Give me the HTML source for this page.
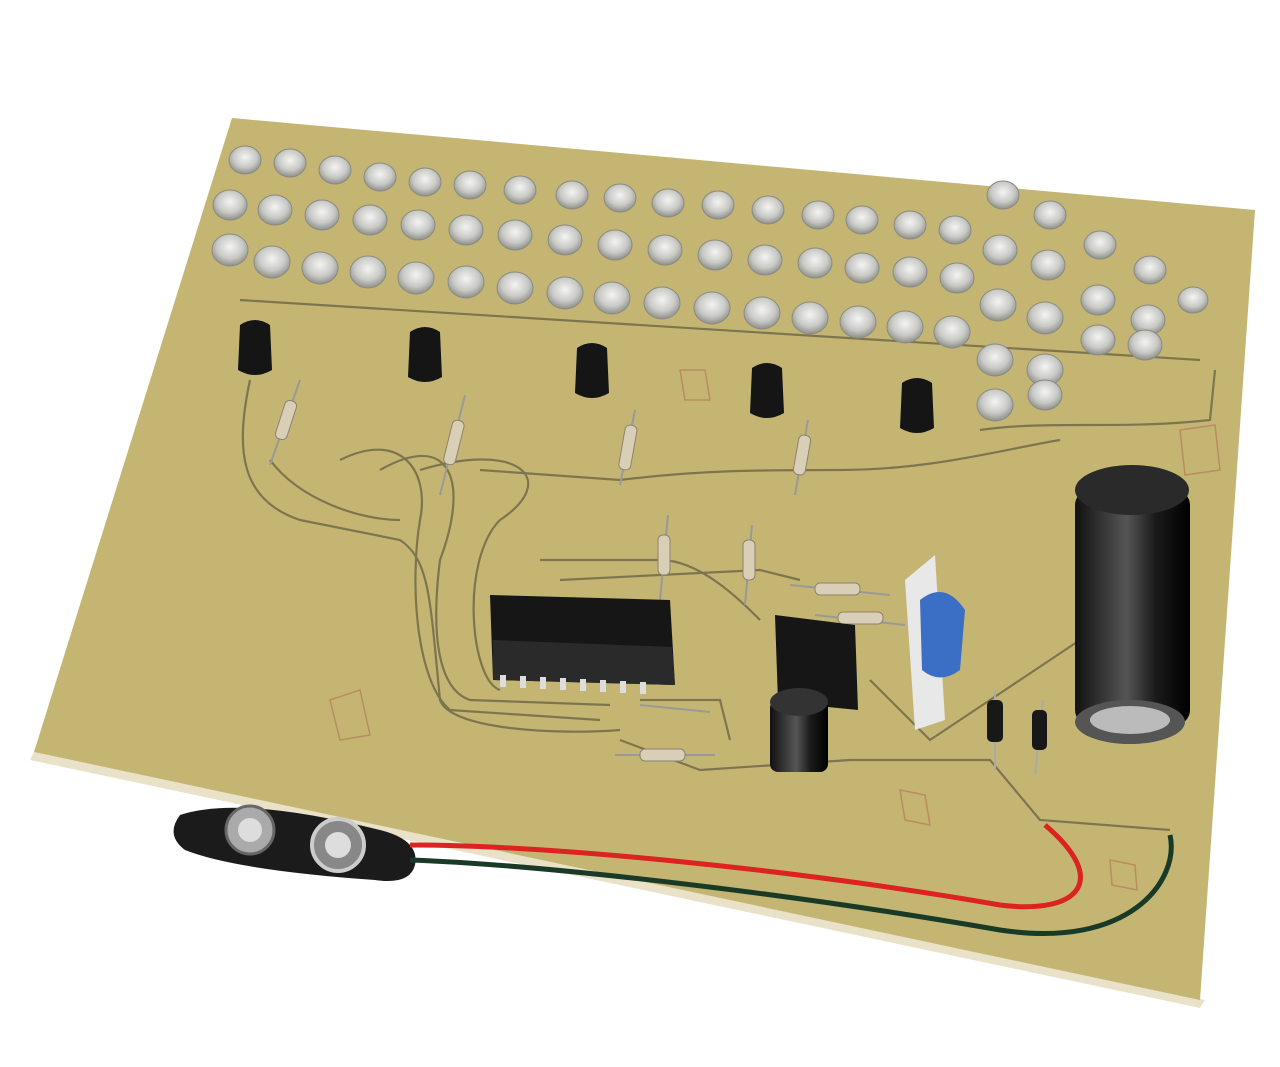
<!DOCTYPE html>
<html><head><meta charset="utf-8"><style>
html,body{margin:0;padding:0;background:#fff;}
svg{display:block}
</style></head><body>
<svg width="1280" height="1067" viewBox="0 0 1280 1067" xmlns="http://www.w3.org/2000/svg">
<defs>
<radialGradient id="led" cx="50%" cy="40%" r="60%">
<stop offset="0" stop-color="#f4f4f2"/><stop offset="0.6" stop-color="#c9cac6"/><stop offset="1" stop-color="#8e8f88"/>
</radialGradient>
<linearGradient id="cap" x1="0" x2="1">
<stop offset="0" stop-color="#111"/><stop offset="0.45" stop-color="#555"/><stop offset="0.7" stop-color="#1a1a1a"/><stop offset="1" stop-color="#000"/>
</linearGradient>
</defs>
<rect width="1280" height="1067" fill="#fff"/>
<!-- board edge -->
<polygon points="30,760 1200,1008 1205,1000 34,752" fill="#e9e2c8"/>
<polygon points="232,118 1255,210 1200,1000 34,752" fill="#c4b672"/>
<!-- traces -->
<g fill="none" stroke="#6d6547" stroke-width="2.2" opacity="0.8">
<path d="M250,380 C235,450 240,500 300,520 L400,540 C430,560 430,600 440,700 C450,730 560,735 620,730"/>
<path d="M340,460 C400,430 430,470 420,520 C410,580 415,680 450,710 L600,720"/>
<path d="M380,470 C450,430 470,480 440,560 C430,640 440,690 470,700 L610,705"/>
<path d="M420,470 C520,440 560,480 500,520 C460,560 470,680 500,690"/>
<path d="M270,460 C300,500 360,520 400,520"/>
<path d="M480,470 L620,480 C700,470 760,470 840,470 C930,470 1000,450 1060,440"/>
<path d="M540,560 L660,560 C700,560 740,600 760,620"/>
<path d="M560,580 L760,570 L800,580"/>
<path d="M620,740 L700,770 L850,760 L990,760 L1040,820 L1170,830"/>
<path d="M870,680 L930,740 L990,700 L1080,640"/>
<path d="M980,430 C1050,420 1120,430 1210,420 L1215,370"/>
<path d="M640,700 L720,700 L730,740"/>
<path d="M240,300 L1200,360"/>
</g>
<!-- red markings -->
<g fill="none" stroke="#b77a5a" stroke-width="1.5" opacity="0.7">
<path d="M330,700 l30,-10 l10,45 l-30,5 z"/><path d="M1180,430 l35,-5 l5,45 l-35,5z"/>
<path d="M680,370 l25,0 l5,30 l-25,0z"/><path d="M900,790 l25,5 l5,30 l-25,-5z"/><path d="M1110,860 l25,5 l2,25 l-25,-5z"/>
</g>
<!-- LEDs -->
<g id="leds" stroke="#8a8a84" stroke-width="1">
<g fill="url(#led)">
<!-- back row -->
<ellipse cx="245" cy="160" rx="16" ry="14"/><ellipse cx="290" cy="163" rx="16" ry="14"/><ellipse cx="335" cy="170" rx="16" ry="14"/><ellipse cx="380" cy="177" rx="16" ry="14"/><ellipse cx="425" cy="182" rx="16" ry="14"/><ellipse cx="470" cy="185" rx="16" ry="14"/><ellipse cx="520" cy="190" rx="16" ry="14"/><ellipse cx="572" cy="195" rx="16" ry="14"/><ellipse cx="620" cy="198" rx="16" ry="14"/><ellipse cx="668" cy="203" rx="16" ry="14"/><ellipse cx="718" cy="205" rx="16" ry="14"/><ellipse cx="768" cy="210" rx="16" ry="14"/><ellipse cx="818" cy="215" rx="16" ry="14"/><ellipse cx="862" cy="220" rx="16" ry="14"/><ellipse cx="910" cy="225" rx="16" ry="14"/><ellipse cx="955" cy="230" rx="16" ry="14"/><ellipse cx="1003" cy="195" rx="16" ry="14"/><ellipse cx="1050" cy="215" rx="16" ry="14"/><ellipse cx="1100" cy="245" rx="16" ry="14"/><ellipse cx="1150" cy="270" rx="16" ry="14"/><ellipse cx="1193" cy="300" rx="15" ry="13"/>
</g>
<g fill="url(#led)">
<ellipse cx="230" cy="205" rx="17" ry="15"/><ellipse cx="275" cy="210" rx="17" ry="15"/><ellipse cx="322" cy="215" rx="17" ry="15"/><ellipse cx="370" cy="220" rx="17" ry="15"/><ellipse cx="418" cy="225" rx="17" ry="15"/><ellipse cx="466" cy="230" rx="17" ry="15"/><ellipse cx="515" cy="235" rx="17" ry="15"/><ellipse cx="565" cy="240" rx="17" ry="15"/><ellipse cx="615" cy="245" rx="17" ry="15"/><ellipse cx="665" cy="250" rx="17" ry="15"/><ellipse cx="715" cy="255" rx="17" ry="15"/><ellipse cx="765" cy="260" rx="17" ry="15"/><ellipse cx="815" cy="263" rx="17" ry="15"/><ellipse cx="862" cy="268" rx="17" ry="15"/><ellipse cx="910" cy="272" rx="17" ry="15"/><ellipse cx="957" cy="278" rx="17" ry="15"/><ellipse cx="1000" cy="250" rx="17" ry="15"/><ellipse cx="1048" cy="265" rx="17" ry="15"/><ellipse cx="1098" cy="300" rx="17" ry="15"/><ellipse cx="1148" cy="320" rx="17" ry="15"/>
</g>
<g fill="url(#led)">
<ellipse cx="230" cy="250" rx="18" ry="16"/><ellipse cx="272" cy="262" rx="18" ry="16"/><ellipse cx="320" cy="268" rx="18" ry="16"/><ellipse cx="368" cy="272" rx="18" ry="16"/><ellipse cx="416" cy="278" rx="18" ry="16"/><ellipse cx="466" cy="282" rx="18" ry="16"/><ellipse cx="515" cy="288" rx="18" ry="16"/><ellipse cx="565" cy="293" rx="18" ry="16"/><ellipse cx="612" cy="298" rx="18" ry="16"/><ellipse cx="662" cy="303" rx="18" ry="16"/><ellipse cx="712" cy="308" rx="18" ry="16"/><ellipse cx="762" cy="313" rx="18" ry="16"/><ellipse cx="810" cy="318" rx="18" ry="16"/><ellipse cx="858" cy="322" rx="18" ry="16"/><ellipse cx="905" cy="327" rx="18" ry="16"/><ellipse cx="952" cy="332" rx="18" ry="16"/><ellipse cx="998" cy="305" rx="18" ry="16"/><ellipse cx="1045" cy="318" rx="18" ry="16"/><ellipse cx="1098" cy="340" rx="17" ry="15"/><ellipse cx="1145" cy="345" rx="17" ry="15"/>
<ellipse cx="995" cy="360" rx="18" ry="16"/><ellipse cx="1045" cy="370" rx="18" ry="16"/><ellipse cx="995" cy="405" rx="18" ry="16"/><ellipse cx="1045" cy="395" rx="17" ry="15"/>
</g>
</g>
<!-- transistors -->
<g fill="#151515">
<path d="M240,325 q15,-10 30,0 l2,45 q-17,10 -34,0z"/>
<path d="M410,332 q15,-10 30,0 l2,45 q-17,10 -34,0z"/>
<path d="M577,348 q15,-10 30,0 l2,45 q-17,10 -34,0z"/>
<path d="M752,368 q15,-10 30,0 l2,45 q-17,10 -34,0z"/>
<path d="M902,383 q15,-10 30,0 l2,45 q-17,10 -34,0z"/>
</g>
<!-- resistors -->
<g stroke="#999" stroke-width="2">
<line x1="270" y1="465" x2="300" y2="380"/><line x1="440" y1="495" x2="465" y2="395"/><line x1="620" y1="485" x2="635" y2="410"/><line x1="795" y1="495" x2="808" y2="420"/>
<line x1="660" y1="600" x2="668" y2="515"/><line x1="745" y1="605" x2="752" y2="525"/>
<line x1="790" y1="585" x2="890" y2="595"/><line x1="815" y1="615" x2="905" y2="625"/><line x1="615" y1="755" x2="715" y2="755"/><line x1="640" y1="705" x2="710" y2="712"/>
</g>
<g fill="#d9cfb7" stroke="#8c8270">
<rect x="280" y="400" width="12" height="40" rx="5" transform="rotate(18 286 420)"/>
<rect x="448" y="420" width="12" height="45" rx="5" transform="rotate(14 454 442)"/>
<rect x="622" y="425" width="12" height="45" rx="5" transform="rotate(10 628 447)"/>
<rect x="796" y="435" width="12" height="40" rx="5" transform="rotate(10 802 455)"/>
<rect x="658" y="535" width="12" height="40" rx="5"/><rect x="743" y="540" width="12" height="40" rx="5"/>
<rect x="815" y="583" width="45" height="12" rx="5"/><rect x="838" y="612" width="45" height="12" rx="5"/><rect x="640" y="749" width="45" height="12" rx="5"/>
</g>
<!-- ICs -->
<polygon points="490,595 670,600 675,685 493,680" fill="#161616"/>
<polygon points="493,640 672,647 675,685 493,680" fill="#2a2a2a"/>
<g fill="#ddd"><rect x="500" y="675" width="6" height="12"/><rect x="520" y="676" width="6" height="12"/><rect x="540" y="677" width="6" height="12"/><rect x="560" y="678" width="6" height="12"/><rect x="580" y="679" width="6" height="12"/><rect x="600" y="680" width="6" height="12"/><rect x="620" y="681" width="6" height="12"/><rect x="640" y="682" width="6" height="12"/></g>
<polygon points="775,615 855,625 858,710 778,702" fill="#161616"/>
<!-- small electrolytic -->
<rect x="770" y="700" width="58" height="72" rx="8" fill="url(#cap)"/>
<ellipse cx="799" cy="702" rx="29" ry="14" fill="#333"/>
<!-- trimmer -->
<polygon points="905,580 935,555 945,720 915,730" fill="#e8e8e8"/>
<path d="M920,600 q25,-20 45,10 l-5,60 q-20,15 -38,0z" fill="#3b6fc6"/>
<!-- diodes -->
<g stroke="#aaa" stroke-width="2"><line x1="995" y1="690" x2="995" y2="770"/><line x1="1043" y1="700" x2="1035" y2="775"/></g>
<rect x="987" y="700" width="16" height="42" rx="5" fill="#181818"/><rect x="1032" y="710" width="15" height="40" rx="5" fill="#181818"/>
<!-- big capacitor -->
<rect x="1075" y="490" width="115" height="235" rx="15" fill="url(#cap)"/>
<ellipse cx="1132" cy="490" rx="57" ry="25" fill="#2a2a2a"/>
<ellipse cx="1130" cy="722" rx="55" ry="22" fill="#555"/>
<ellipse cx="1130" cy="720" rx="40" ry="14" fill="#bbb"/>
<!-- battery snap -->
<path d="M180,815 q60,-20 200,15 q40,10 35,35 q-5,20 -40,15 q-140,-10 -190,-30 q-20,-15 -5,-35z" fill="#1b1b1b"/>
<circle cx="250" cy="830" r="24" fill="#aaa" stroke="#666" stroke-width="3"/><circle cx="250" cy="830" r="12" fill="#ddd"/>
<circle cx="338" cy="845" r="26" fill="#888" stroke="#ccc" stroke-width="4"/><circle cx="338" cy="845" r="13" fill="#ddd"/>
<!-- wires -->
<path d="M410,845 C550,845 800,870 1000,905 C1080,915 1110,880 1045,825" fill="none" stroke="#d22" stroke-width="5"/>
<path d="M410,860 C550,865 800,895 1000,930 C1130,950 1180,880 1170,835" fill="none" stroke="#1a3a28" stroke-width="5"/>
</svg>
</body></html>
